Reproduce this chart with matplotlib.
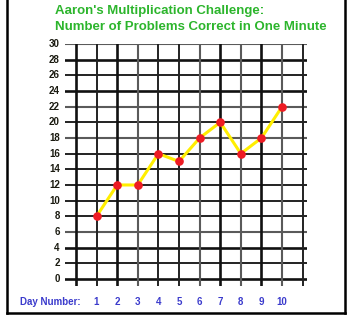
import matplotlib.pyplot as plt

# data
days = [1, 2, 3, 4, 5, 6, 7, 8, 9, 10]
correct = [8, 12, 12, 16, 15, 18, 20, 16, 18, 22]
y_ticks = list(range(0, 31, 2))
x_grid = list(range(0, 12))

title_1 = "Aaron's Multiplication Challenge:"
title_2 = "Number of Problems Correct in One Minute"

W, H = 350, 317
plt.rcParams['font.family'] = ['Liberation Sans', 'DejaVu Sans']

fig = plt.figure(figsize=(W / 100, H / 100), dpi=100)
fig.patch.set_facecolor('white')

# axes placed in pixel terms: x 65..307, y 44..286 (from top)
left, right, top, bottom = 65, 307, 44, 286
ax = fig.add_axes([left / W, 1 - bottom / H, (right - left) / W, (bottom - top) / H])
ax.set_xlim(-0.53, 11.21)
ax.set_ylim(-0.9, 30)
ax.axis('off')

# grid line looks (some darker, some greyish like the original)
h_style = {30: 'grey', 28: 'bold', 26: 'thin', 24: 'bold', 22: 'grey', 20: 'thin',
           18: 'grey', 16: 'thin', 14: 'thin', 12: 'thin', 10: 'thin', 8: 'thin',
           6: 'grey', 4: 'bold', 2: 'thin', 0: 'bold'}
v_style = ['bold', 'thin', 'bold', 'grey', 'thin', 'thin', 'grey', 'bold',
           'grey', 'bold', 'grey', 'thin']
looks = {'bold': ('#111111', 1.9), 'thin': ('#222222', 1.4), 'grey': ('#5a5a5a', 1.5)}

for y in y_ticks:
    c, lw = looks[h_style[y]]
    ax.axhline(y, color=c, lw=lw, zorder=1)
for x, s in zip(x_grid, v_style):
    c, lw = looks[s]
    ax.axvline(x, color=c, lw=lw, zorder=1)

# y labels
for y in y_ticks:
    ax.text(-0.78, y, str(y), ha='right', va='center', fontsize=7,
            fontweight='bold', color='#1a1a10', clip_on=False)

# day labels
for d in days:
    ax.text(d, -2.95, str(d), ha='center', va='center', fontsize=7,
            fontweight='bold', color='#3b3bcc', clip_on=False)
fig.text(20 / W, 1 - 302 / H, "Day Number:", ha='left', va='center', fontsize=7,
         fontweight='bold', color='#3b3bcc')

# the data line
ax.plot(days, correct, color='#ffee00', lw=2.2, zorder=3)
ax.plot(days, correct, 'o', color='#ee1c24', ms=5.2, zorder=4, clip_on=False)

# title
fig.text(55 / W, 1 - 11 / H, title_1, ha='left', va='center', fontsize=9.5,
         fontweight='bold', color='#2cb52c')
fig.text(55 / W, 1 - 27 / H, title_2, ha='left', va='center', fontsize=9.5,
         fontweight='bold', color='#2cb52c')

# frame around the picture
fig.add_artist(plt.Line2D([6.5 / W, 6.5 / W], [1 - 313 / H, 1], color='black',
                          lw=1.8, transform=fig.transFigure))
fig.add_artist(plt.Line2D([345 / W, 345 / W], [1 - 313 / H, 1], color='black',
                          lw=1.8, transform=fig.transFigure))
fig.add_artist(plt.Line2D([6.5 / W, 345 / W], [1 - 313 / H, 1 - 313 / H],
                          color='black', lw=1.8, transform=fig.transFigure))

fig.savefig('out.png', dpi=100)
